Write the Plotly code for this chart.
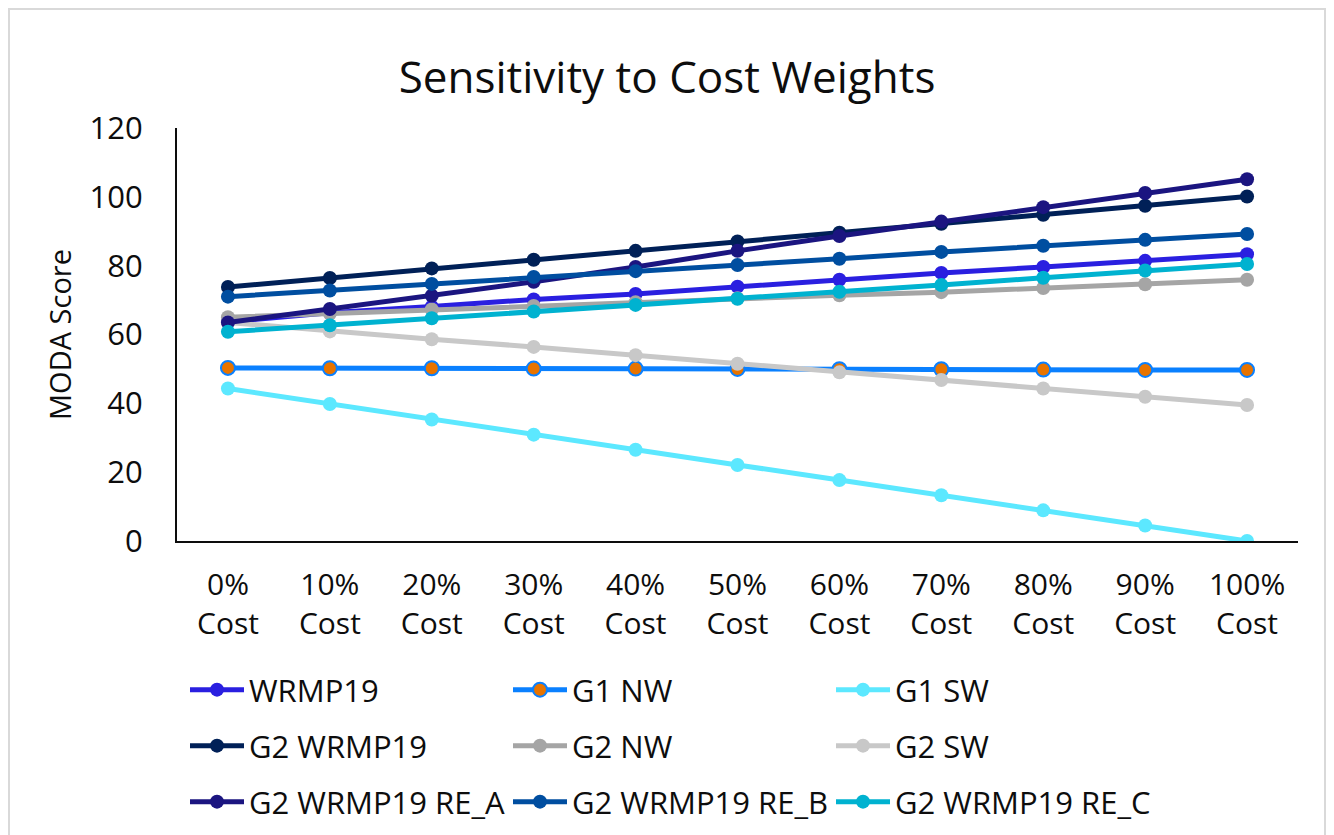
import plotly.graph_objects as go

categories = ["0%<br>Cost", "10%<br>Cost", "20%<br>Cost", "30%<br>Cost", "40%<br>Cost", "50%<br>Cost",
              "60%<br>Cost", "70%<br>Cost", "80%<br>Cost", "90%<br>Cost", "100%<br>Cost"]

wrmp19 = [63.7, 66.3, 68.1, 70.2, 71.8, 73.9, 75.9, 77.9, 79.6, 81.4, 83.3]
g1_nw = [50.3, 50.2, 50.2, 50.1, 50.1, 50.0, 49.9, 49.9, 49.8, 49.7, 49.7]
g1_sw = [44.3, 39.8, 35.3, 30.9, 26.5, 22.1, 17.7, 13.3, 8.9, 4.5, 0.0]
g2_wrmp19 = [73.8, 76.4, 79.2, 81.7, 84.3, 87.0, 89.6, 92.2, 94.8, 97.4, 100.1]
g2_nw = [65.0, 66.1, 67.3, 68.3, 69.4, 70.5, 71.4, 72.3, 73.5, 74.6, 75.9]
g2_sw = [63.5, 60.9, 58.6, 56.4, 54.0, 51.5, 49.0, 46.8, 44.3, 41.9, 39.5]
g2_re_a = [63.5, 67.4, 71.3, 75.3, 79.6, 84.3, 88.6, 92.8, 97.0, 101.1, 105.1]
g2_re_b = [71.0, 72.8, 74.7, 76.7, 78.4, 80.2, 82.0, 84.0, 85.8, 87.5, 89.2]
g2_re_c = [60.8, 62.7, 64.7, 66.7, 68.6, 70.4, 72.4, 74.4, 76.5, 78.6, 80.5]

series = [
    ("WRMP19", wrmp19, "#2A1FE0", None, "legend"),
    ("G1 NW", g1_nw, "#0A80FF", "#E87400", "legend"),
    ("G1 SW", g1_sw, "#5CE8FF", None, "legend"),
    ("G2 WRMP19", g2_wrmp19, "#002057", None, "legend2"),
    ("G2 NW", g2_nw, "#A5A5A5", None, "legend2"),
    ("G2 SW", g2_sw, "#C8C8C8", None, "legend2"),
    ("G2 WRMP19 RE_A", g2_re_a, "#1B1580", None, "legend3"),
    ("G2 WRMP19 RE_B", g2_re_b, "#004EA0", None, "legend3"),
    ("G2 WRMP19 RE_C", g2_re_c, "#00B2D0", None, "legend3"),
]

fig = go.Figure()
for name, vals, color, fill, lg in series:
    if fill:
        marker = dict(size=14, color=fill, line=dict(color=color, width=2))
    else:
        marker = dict(size=14, color=color, line=dict(width=0))
    fig.add_trace(go.Scatter(x=categories, y=vals, name=name, mode="lines+markers", legend=lg,
                             line=dict(color=color, width=5), marker=marker))

W, H = 1334, 835
ml, mr, mt, mb = 169, 44, 120, 302
pw, ph = W - ml - mr, H - mt - mb

def px_x(p):
    return (p - ml) / pw

def px_y(p):
    return (H - mb - p) / ph

fig.add_shape(type="rect", xref="paper", yref="paper",
              x0=px_x(1), x1=px_x(1317), y0=px_y(845), y1=px_y(1),
              line=dict(color="#D9D9D9", width=2), fillcolor="rgba(0,0,0,0)", layer="below")

font_color = "#0D0D0D"

def legend_row(ypix):
    return dict(orientation="h", xref="container", yref="container",
                x=177 / W, xanchor="left", y=1 - ypix / H, yanchor="middle",
                entrywidth=322 - 68, entrywidthmode="pixels", itemwidth=54,
                font=dict(family="Open Sans", size=31, color=font_color),
                bgcolor="rgba(0,0,0,0)", traceorder="normal")

fig.update_layout(
    width=W, height=H,
    margin=dict(l=ml, r=mr, t=mt, b=mb),
    paper_bgcolor="white", plot_bgcolor="white",
    font=dict(family="Open Sans", color=font_color, size=26),
    title=dict(text="Sensitivity to Cost Weights", x=659 / W, xanchor="center", xref="container",
               yref="container", y=1 - 70 / H, yanchor="middle",
               font=dict(family="Open Sans", size=44, color=font_color)),
    showlegend=True,
    legend=legend_row(682),
    legend2=legend_row(738),
    legend3=legend_row(794),
    xaxis=dict(type="category", range=[-0.5, 10.5], showline=True, linecolor=font_color, linewidth=2,
               showgrid=False, ticks="", zeroline=False, tickfont=dict(size=30),
               ticklabelstandoff=16, fixedrange=True),
    yaxis=dict(range=[0, 120], dtick=20, showline=True, linecolor=font_color, linewidth=2,
               showgrid=False, ticks="", zeroline=False, tickfont=dict(size=31),
               ticklabelstandoff=26,
               title=dict(text="MODA Score", font=dict(size=29), standoff=9)),
)

fig.write_html("out.html")
